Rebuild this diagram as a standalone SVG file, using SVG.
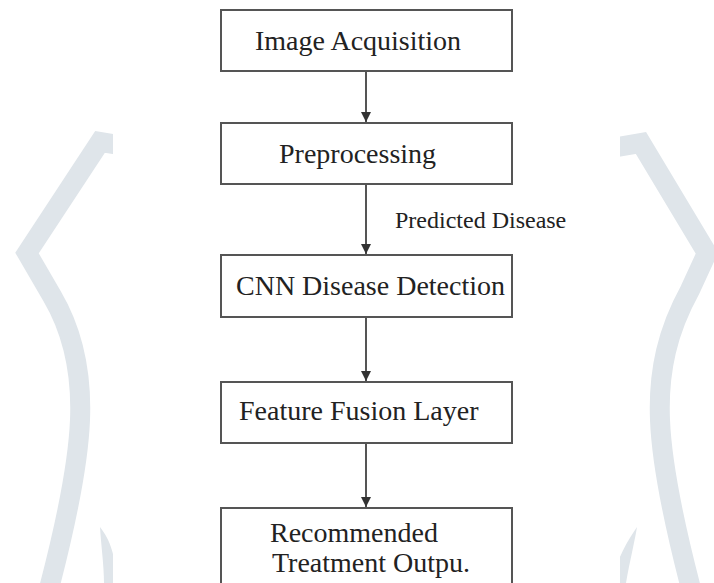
<svg xmlns="http://www.w3.org/2000/svg" width="714" height="583" viewBox="0 0 714 583">
<style>
.wm{fill:none;stroke:#dfe5ea;stroke-width:20;stroke-linejoin:miter}
.box{fill:#ffffff;stroke:#555555;stroke-width:2}
.lbl{font-family:"Liberation Serif","Times New Roman",serif;font-size:28px;fill:#222222}
.elbl{font-family:"Liberation Serif","Times New Roman",serif;font-size:24px;fill:#222222}
.conn{stroke:#555555;stroke-width:2;fill:none}
</style>
<defs>
<marker id="ah" viewBox="0 0 10 10" refX="10" refY="5" markerWidth="5" markerHeight="5" orient="auto" markerUnits="strokeWidth">
<path d="M0,0 L10,5 L0,10 Z" fill="#333333"/>
</marker>
</defs>
<rect width="714" height="583" fill="#ffffff"/>
<g id="watermark">
<path class="wm" d="M125 146 L100 142 L27 253 L52 296 C72 330 82 370 80 420 C78 470 62 540 46 600"/>
<path class="wm" d="M600 150 L641 143 L707 253 L690 290 C668 330 658 370 660 420 C662 470 678 540 694 600"/>
<path d="M100 527 C110 540 116 555 116 583 L104 583 C104 565 101 545 100 527 Z" fill="#dfe5ea"/>
<path d="M637 527 C628 540 616 560 612 583 L626 583 C630 560 634 545 637 527 Z" fill="#dfe5ea"/>
<rect x="113" y="0" width="507" height="583" fill="#ffffff"/>
</g>
<g id="connectors">
<line class="conn" x1="366" y1="71" x2="366" y2="122" marker-end="url(#ah)"/>
<line class="conn" x1="366" y1="184" x2="366" y2="254" marker-end="url(#ah)"/>
<line class="conn" x1="366" y1="317" x2="366" y2="381" marker-end="url(#ah)"/>
<line class="conn" x1="366" y1="443" x2="366" y2="507" marker-end="url(#ah)"/>
<text class="elbl" x="395" y="228">Predicted Disease</text>
</g>
<g id="n1">
<rect class="box" x="221" y="10" width="291" height="61"/>
<text class="lbl" x="255" y="50">Image Acquisition</text>
</g>
<g id="n2">
<rect class="box" x="221" y="123" width="291" height="61"/>
<text class="lbl" x="279" y="163">Preprocessing</text>
</g>
<g id="n3">
<rect class="box" x="221" y="255" width="291" height="62"/>
<text class="lbl" x="236" y="295">CNN Disease Detection</text>
</g>
<g id="n4">
<rect class="box" x="221" y="382" width="291" height="61"/>
<text class="lbl" x="239" y="420">Feature Fusion Layer</text>
</g>
<g id="n5">
<rect class="box" x="221" y="508" width="291" height="90"/>
<text class="lbl" x="270" y="542">Recommended</text>
<text class="lbl" x="272" y="572">Treatment Outpu.</text>
</g>
</svg>
